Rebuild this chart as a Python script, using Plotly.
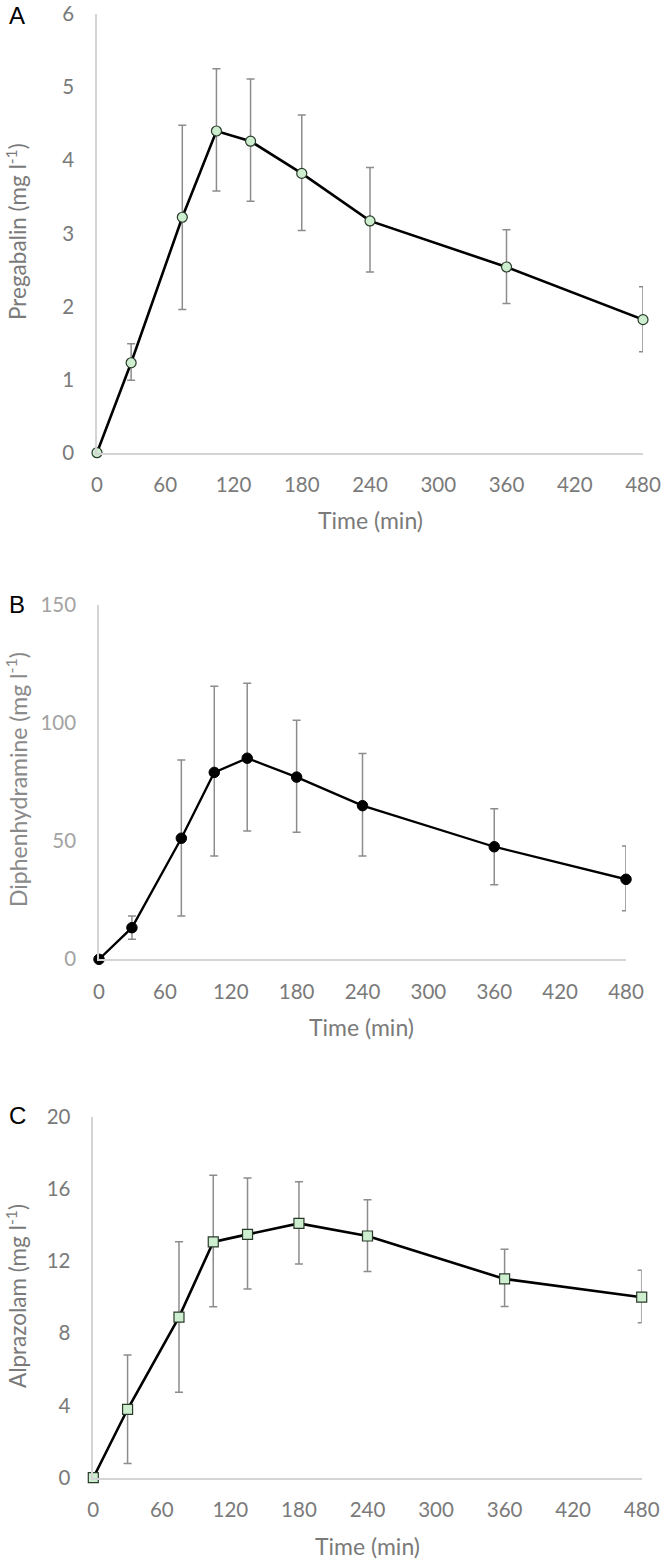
import plotly.graph_objects as go

# ---- data ----
time_min = [0, 30, 75, 105, 135, 180, 240, 360, 480]

pregabalin_mean = [0, 1.23, 3.22, 4.40, 4.26, 3.82, 3.17, 2.54, 1.82]
pregabalin_upper = [0, 1.49, 4.48, 5.25, 5.11, 4.62, 3.90, 3.05, 2.27]
pregabalin_lower = [0, 0.99, 1.96, 3.58, 3.44, 3.04, 2.47, 2.04, 1.38]

diphen_mean = [0, 13.4, 51.3, 79.2, 85.2, 77.2, 65.1, 47.7, 33.9]
diphen_upper = [0, 18.3, 84.4, 115.7, 117.0, 101.3, 87.2, 63.8, 48.0]
diphen_lower = [0, 8.5, 18.3, 43.8, 54.4, 53.8, 43.8, 31.6, 20.6]

alpraz_mean = [0, 3.79, 8.90, 13.06, 13.48, 14.09, 13.39, 11.01, 10.0]
alpraz_upper = [0, 6.80, 13.07, 16.75, 16.60, 16.40, 15.40, 12.65, 11.50]
alpraz_lower = [0, 0.78, 4.73, 9.47, 10.45, 11.84, 11.43, 9.49, 8.58]

x_ticks = [0, 60, 120, 180, 240, 300, 360, 420, 480]
a_ticks = [0, 1, 2, 3, 4, 5, 6]
b_ticks = [0, 50, 100, 150]
c_ticks = [0, 4, 8, 12, 16, 20]

W, H = 665, 1563
FONT = "Lato, 'Open Sans', sans-serif"


def px_x(v):
    return v / W


def px_y(v):
    return 1 - v / H


fig = go.Figure()


def add_series(mean, upper, lower, xa, ya, marker, lw):
    plus = [u - m for u, m in zip(upper, mean)]
    minus = [m - l for m, l in zip(mean, lower)]
    fig.add_trace(go.Scatter(
        x=time_min, y=mean, xaxis=xa, yaxis=ya, mode="lines+markers",
        line=dict(color="black", width=lw),
        marker=marker,
        error_y=dict(type="data", symmetric=False, array=plus, arrayminus=minus,
                     color="#8c8c8c", thickness=1.5, width=4),
        cliponaxis=False, showlegend=False,
    ))


add_series(pregabalin_mean, pregabalin_upper, pregabalin_lower, "x", "y",
           dict(symbol="circle", size=10, color="#cdeecf",
                line=dict(color="#2a3a2a", width=1.2)), 2.6)
add_series(diphen_mean, diphen_upper, diphen_lower, "x2", "y2",
           dict(symbol="circle", size=10.5, color="black",
                line=dict(color="black", width=1)), 2.3)
add_series(alpraz_mean, alpraz_upper, alpraz_lower, "x3", "y3",
           dict(symbol="square", size=10, color="#cdeecf",
                line=dict(color="#2a3a2a", width=1.2)), 2.6)

tickfont_dark = dict(family=FONT, size=20.5, color="#7a7a7a")
tickfont_light = dict(family=FONT, size=20.5, color="#a3a3a3")


def xaxis(domain, anchor):
    return dict(domain=domain, anchor=anchor, range=[0, 480], tickvals=x_ticks,
                showgrid=False, zeroline=False, showline=True, linecolor="#d4d4d4",
                linewidth=1.5, ticks="", tickfont=tickfont_dark, automargin=False,
                ticklabelstandoff=13, ticklabeloverflow="allow", fixedrange=True)


def yaxis(domain, anchor, rng, tickvals, tf):
    return dict(domain=domain, anchor=anchor, range=rng, tickvals=tickvals,
                showgrid=False, zeroline=False, showline=True, linecolor="#d4d4d4",
                linewidth=1.5, ticks="", tickfont=tf, ticklabelstandoff=17,
                ticklabeloverflow="allow", automargin=False, fixedrange=True)


fig.update_layout(
    width=W, height=H, margin=dict(l=0, r=0, t=0, b=0, autoexpand=False),
    paper_bgcolor="white", plot_bgcolor="white",
    xaxis=xaxis([px_x(97), px_x(643)], "y"),
    yaxis=yaxis([px_y(452.7), px_y(14)], "x", [0, 6], a_ticks, tickfont_dark),
    xaxis2=xaxis([px_x(99), px_x(626)], "y2"),
    yaxis2=yaxis([px_y(959.3), px_y(605.3)], "x2", [0, 150], b_ticks, tickfont_light),
    xaxis3=xaxis([px_x(93.3), px_x(641.7)], "y3"),
    yaxis3=yaxis([px_y(1477.7), px_y(1116.7)], "x3", [0, 20], c_ticks, tickfont_dark),
)

annotations = []


def ann(text, x, y, font, angle=0):
    annotations.append(dict(text=text, x=px_x(x), y=px_y(y), xref="paper", yref="paper",
                            xanchor="center", yanchor="middle", showarrow=False,
                            textangle=angle, font=font))


# panel letters
for letter, yy in [("A", 16), ("B", 604), ("C", 1115)]:
    ann(letter, 17, yy, dict(family="Arial, Liberation Sans", size=24, color="black"))
# y titles
for txt, yy, col, sz in [("Pregabalin (mg l<sup>-1</sup>)", 232, "#7a7a7a", 22.5),
                         ("Diphenhydramine (mg l<sup>-1</sup>)", 780, "#8a8a8a", 23),
                         ("Alprazolam (mg l<sup>-1</sup>)", 1296, "#7a7a7a", 22.5)]:
    ann(txt, 16, yy, dict(family=FONT, size=sz, color=col), angle=-90)
# x titles
for xx, yy in [(370, 520), (362, 1027), (367, 1546)]:
    ann("Time (min)", xx, yy, dict(family=FONT, size=23, color="#7a7a7a"))

fig.update_layout(annotations=annotations)

fig.write_html("out.html", config={"displayModeBar": False},
               post_script="document.body.style.margin='0px';document.body.style.padding='0px';")
